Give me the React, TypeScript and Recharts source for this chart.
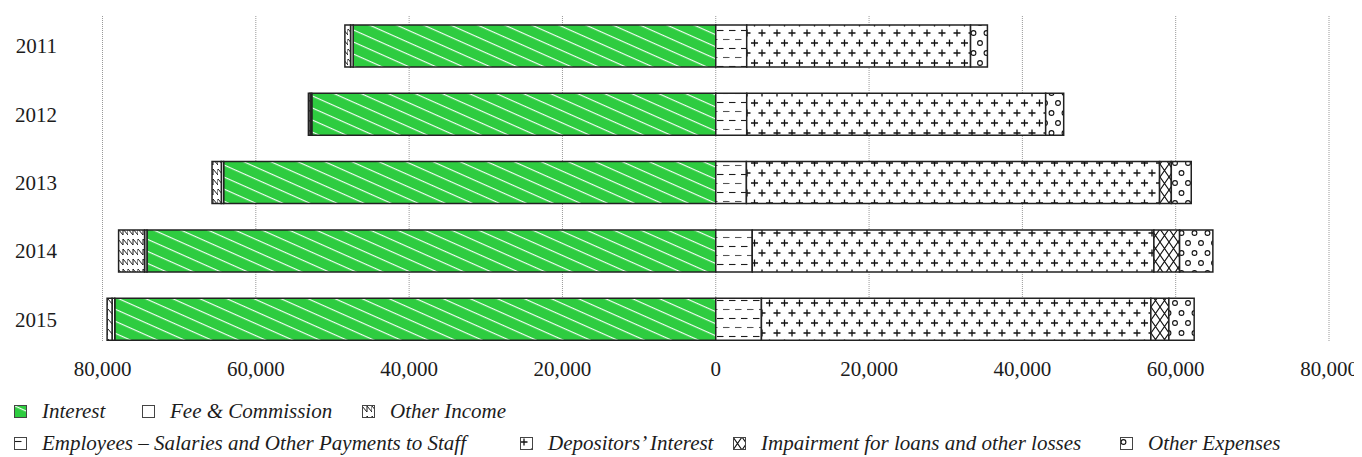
import React from "react";
import { BarChart, Bar, XAxis, YAxis, CartesianGrid } from "recharts";

const years = ["2011", "2012", "2013", "2014", "2015"];

// income, drawn to the left of zero
const interest = [47300, 52700, 64200, 74200, 78400];
const feeCommission = [340, 220, 300, 310, 350];
const otherIncome = [740, 220, 1210, 3390, 650];

// expenses, drawn to the right of zero
const employees = [4040, 4040, 4000, 4760, 5960];
const depositorsInterest = [29200, 39000, 53900, 52400, 50800];
const impairment = [0, 0, 1530, 3350, 2350];
const otherExpenses = [2200, 2350, 2600, 4340, 3300];

const xTicks = [-80000, -60000, -40000, -20000, 0, 20000, 40000, 60000, 80000];

const data = years.map((year, i) => ({
  year,
  interest: -interest[i],
  fee: -feeCommission[i],
  otherIncome: -otherIncome[i],
  employees: employees[i],
  depositors: depositorsInterest[i],
  impairment: impairment[i],
  otherExpenses: otherExpenses[i],
}));

const series = [
  { key: "interest", name: "Interest", fill: "url(#pInterest)" },
  { key: "fee", name: "Fee & Commission", fill: "#fff" },
  { key: "otherIncome", name: "Other Income", fill: "url(#pOtherIncome)" },
  { key: "employees", name: "Employees – Salaries and Other Payments to Staff", fill: "url(#pEmployees)" },
  { key: "depositors", name: "Depositors’ Interest", fill: "url(#pDepositors)" },
  { key: "impairment", name: "Impairment for loans and other losses", fill: "url(#pImpairment)" },
  { key: "otherExpenses", name: "Other Expenses", fill: "url(#pOtherExpenses)" },
];

// legend rows: [series index, text left, row top]
const legendItems = [
  [0, 34, 393],
  [1, 162, 393],
  [2, 382, 393],
  [3, 34, 425],
  [4, 540, 425],
  [5, 753, 425],
  [6, 1140, 425],
];

const FONT = "'Liberation Serif', 'Times New Roman', serif";
const INK = "#1c1c1c";

const Patterns = () => (
  <defs>
    <pattern id="pInterest" patternUnits="userSpaceOnUse" width="11" height="11" patternTransform="rotate(24)">
      <rect width="11" height="11" fill="#2ecc40" />
      <line x1="0" y1="0.6" x2="11" y2="0.6" stroke="#fff" strokeWidth="1.1" />
    </pattern>
    <pattern id="pOtherIncome" patternUnits="userSpaceOnUse" width="10" height="10">
      <rect width="10" height="10" fill="#fff" />
      <path d="M0 1 L5 7 L5 1 L10 7 L10 1" fill="none" stroke={INK} strokeWidth="1" />
    </pattern>
    <pattern id="pEmployees" patternUnits="userSpaceOnUse" width="12" height="18">
      <rect width="12" height="18" fill="#fff" />
      <line x1="1" y1="4.5" x2="7.5" y2="4.5" stroke={INK} strokeWidth="1.1" />
      <line x1="7" y1="13.5" x2="13.5" y2="13.5" stroke="#555" strokeWidth="1.1" />
      <line x1="-5" y1="13.5" x2="1.5" y2="13.5" stroke="#555" strokeWidth="1.1" />
    </pattern>
    <pattern id="pDepositors" patternUnits="userSpaceOnUse" width="15" height="20">
      <rect width="15" height="20" fill="#fff" />
      <path d="M0.5 5 H7.5 M4 1.5 V8.5 M8 15 H15 M11.5 11.5 V18.5" stroke="#111" strokeWidth="1.3" />
    </pattern>
    <pattern id="pImpairment" patternUnits="userSpaceOnUse" width="9" height="13">
      <rect width="9" height="13" fill="#fff" />
      <path d="M0 0 L9 13 M9 0 L0 13" stroke="#111" strokeWidth="1.1" />
    </pattern>
    <pattern id="pOtherExpenses" patternUnits="userSpaceOnUse" width="13" height="20">
      <rect width="13" height="20" fill="#fff" />
      <circle cx="3.5" cy="5" r="2.4" fill="none" stroke="#111" strokeWidth="1.1" />
      <circle cx="10" cy="15" r="2.4" fill="none" stroke="#111" strokeWidth="1.1" />
    </pattern>
  </defs>
);

const App = () => {
  return (
    <div style={{ position: "relative", width: 1354, height: 449, fontFamily: FONT }}>
      <BarChart
        width={1354}
        height={380}
        data={data}
        layout="vertical"
        stackOffset="sign"
        barCategoryGap="19.5%"
        margin={{ top: 8, right: 33, bottom: 0, left: 0 }}
      >
        <Patterns />
        <CartesianGrid horizontal={false} stroke="#999" strokeDasharray="1 1" />
        <XAxis
          type="number"
          domain={[-80000, 80000]}
          ticks={xTicks}
          tickFormatter={(v: number) => Math.abs(v).toLocaleString("en-US")}
          axisLine={false}
          tickLine={false}
          tickMargin={13}
          height={46}
          tick={{ fill: INK, fontSize: 21, fontFamily: FONT }}
        />
        <YAxis
          type="category"
          dataKey="year"
          width={94.5}
          axisLine={false}
          tickLine={false}
          tickMargin={39.5}
          padding={{ top: -4.3, bottom: -11.2 }}
          tick={{ fill: INK, fontSize: 21, fontFamily: FONT }}
        />
        {series.map((s) => (
          <Bar
            key={s.key}
            dataKey={s.key}
            name={s.name}
            stackId="flow"
            fill={s.fill}
            stroke="#222"
            strokeWidth={1.5}
            isAnimationActive={false}
          />
        ))}
      </BarChart>

      {legendItems.map(([idx, left, top]) => {
        const s = series[idx];
        return (
          <div key={s.key}>
            <svg
              width={13}
              height={13}
              style={{ position: "absolute", left: left - 28, top: top + 4 }}
            >
              <rect x={0.5} y={0.5} width={12} height={12} fill={s.fill} stroke="#444" strokeWidth={1} />
            </svg>
            <span
              style={{
                position: "absolute",
                left,
                top,
                fontSize: 21,
                lineHeight: "21px",
                fontStyle: "italic",
                color: INK,
                whiteSpace: "nowrap",
              }}
            >
              {s.name}
            </span>
          </div>
        );
      })}
    </div>
  );
};

export default App;
